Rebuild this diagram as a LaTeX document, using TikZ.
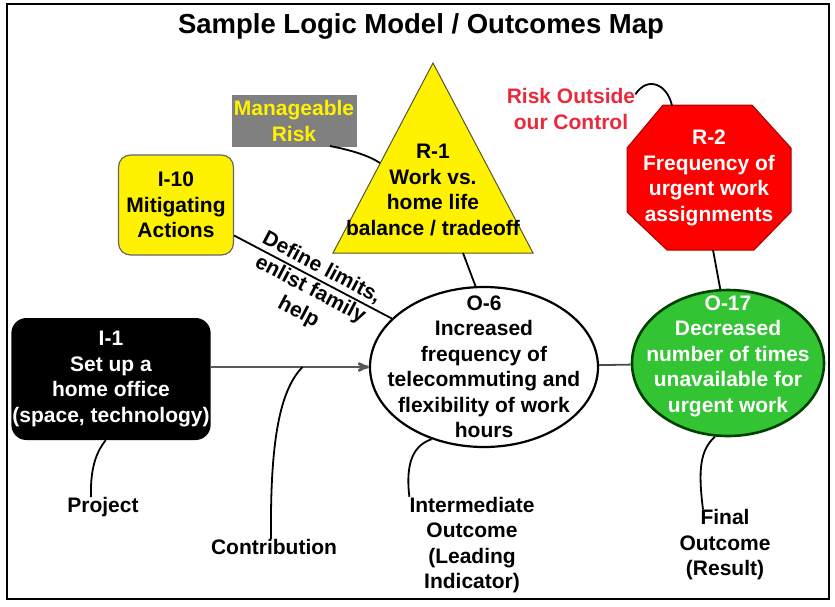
\documentclass[tikz,border=0pt]{standalone}
\usepackage{fontspec}
\setmainfont{Liberation Sans}
\usetikzlibrary{arrows,shapes}
\tikzset{>=stealth'}

\definecolor{riskred}{RGB}{235,40,60}
\definecolor{outgreen}{RGB}{50,196,50}
\definecolor{boxgray}{RGB}{128,128,128}

\begin{document}
\begin{tikzpicture} [x=1pt,y=-1pt,font=\fontsize{21}{25.5}\selectfont\bfseries]

\tikzstyle{box}=[rounded corners=12pt,align=center,inner sep=1pt]
\tikzstyle{oval}=[ellipse,draw,line width=2.2pt,inner sep=0pt]
\tikzstyle{txt}=[align=center,inner sep=0pt]
\tikzstyle{link}=[line width=1.8pt]

\useasboundingbox (0,0) rectangle (835,606);
\draw[line width=2.4pt] (7,4) rectangle (829,599);

\node[txt,font=\fontsize{27.5}{30}\selectfont\bfseries] (title) at (421,26) {Sample Logic Model / Outcomes Map};

% triangle and stop sign
\draw[fill=yellow,draw=olive!50!black,line width=1pt] (433,63) -- (533,253) -- (333,253) -- cycle;
\node[txt] (r1) at (433,190) {R-1\\Work vs.\\home life\\balance / tradeoff};
\coordinate (r1 base) at (463,253);
\coordinate (r1 side) at (380,163);

\draw[fill=red,draw=red!65!black,line width=1pt] (663,105) -- (752,105) -- (791,148) -- (791,212)
  -- (754,250) -- (667,250) -- (627,212) -- (627,148) -- cycle;
\node[txt,text=white] (r2) at (709,178) {R-2\\Frequency of\\urgent work\\assignments};
\coordinate (r2 top) at (672,106);
\coordinate (r2 base) at (713,250);

\node[txt,fill=boxgray,text=yellow,minimum width=125pt,minimum height=52pt] (mrisk) at (294,121) {Manageable\\Risk};
\node[txt,text=riskred] (riskout) at (571,109) {Risk Outside\\our Control};

\node[box,fill=yellow,draw=black!60,line width=1.2pt,minimum width=115pt,minimum height=100pt] (i10) at (176,205) {I-10\\Mitigating\\Actions};
\node[box,fill=black,text=white,rounded corners=15pt,minimum width=198pt,minimum height=122pt] (i1) at (111,379) {I-1\\Set up a\\home office\\(space, technology)};

\node[oval,fill=white,minimum width=228pt,minimum height=160pt,
  label={[align=center]center:{O-6\\Increased\\frequency of\\telecommuting and\\flexibility of work\\hours}}] (o6) at (484,367) {};
\node[oval,fill=outgreen,draw=green!25!black,line width=2.6pt,minimum width=192pt,minimum height=146pt,
  label={[align=center,text=white,yshift=7pt]center:{O-17\\Decreased\\number of times\\unavailable for\\urgent work}}] (o17) at (728,363) {};

\node[txt] (project) at (103,507) {Project};
\node[txt] (contrib) at (274,547) {Contribution};
\node[txt] (inter) at (472,545) {Intermediate\\Outcome\\(Leading\\Indicator)};
\node[txt] (final) at (725,545) {Final\\Outcome\\(Result)};

% links
\draw[->,draw=black!65,line width=2.6pt] (i1.east |- o6) -- coordinate[pos=0.58] (hit) (o6);
\draw[link] (i10) -- node[sloped,above=2pt,pos=0.52,inner sep=0pt] (lim1) {Define limits,}
  node[sloped,below=2pt,pos=0.52,align=center,inner sep=0pt] (lim2) {enlist family\\help} (o6);
\draw[link] (r1 base) -- (o6.96);
\draw[link] (r2 base) -- (o17.96);
\draw[link,draw=black!70] (o6) -- (o17);
\draw[link] (330,146) .. controls (350,150) and (368,155) .. (r1 side);
\draw[link] ([yshift=-6pt]riskout.north east) .. controls (648,75) and (668,85) .. (r2 top);

\draw[link] ([xshift=-12pt]project.north) .. controls (90,465) and (98,450) .. (i1.265);
\draw[link] ([xshift=-3pt]contrib.north) .. controls (270,440) and (280,390) .. (hit);
\draw[link] (inter.north west) .. controls (405,460) and (415,445) .. (o6.234);
\draw[link] ([xshift=-22pt]final.north) .. controls (698,470) and (700,450) .. (o17.260);
\end{tikzpicture}
\end{document}
